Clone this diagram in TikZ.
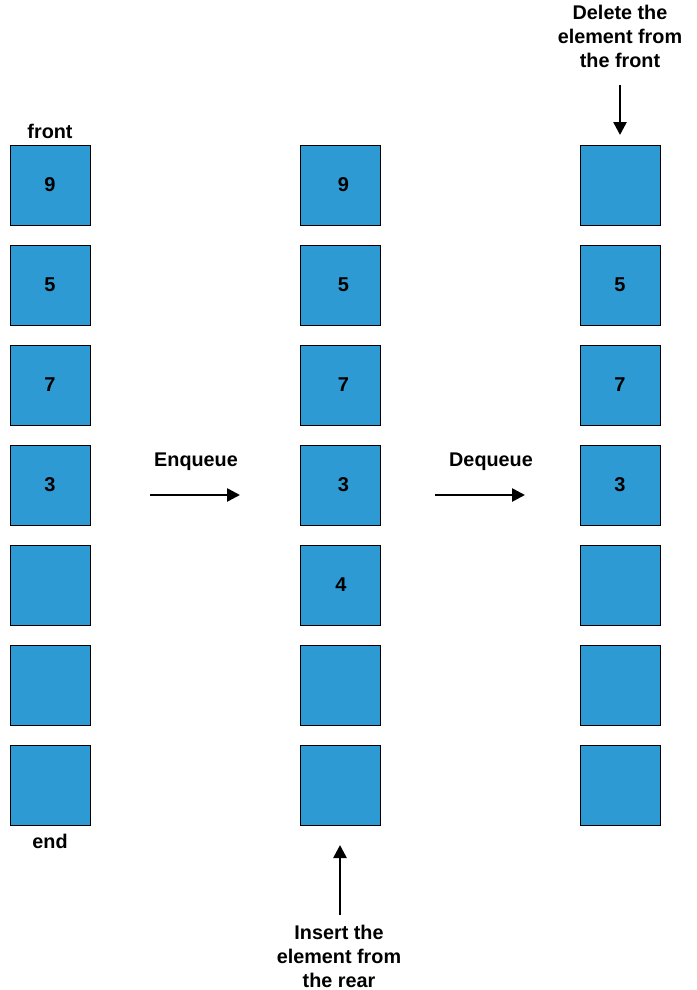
\documentclass[tikz,border=0pt]{standalone}
\usepackage{fontspec}
\setmainfont{Liberation Sans}
\usetikzlibrary{arrows.meta}
\definecolor{qblue}{HTML}{2E9AD3}
\tikzset{
  cell/.style={draw=black, line width=0.9pt, fill=qblue, minimum width=80pt, minimum height=80pt, inner sep=0pt, outer sep=0pt, font=\bfseries\fontsize{20}{22}\selectfont},
  lbl/.style={font=\bfseries\fontsize{19.8}{24}\selectfont, inner sep=0pt, align=center},
  arr/.style={draw=black, line width=2.6pt, -{Triangle[length=13pt,width=13pt]}}
}
\begin{document}
\begin{tikzpicture}[x=1pt,y=-1pt]
\useasboundingbox (0,0) rectangle (696,990);
% column 1
\node[cell] (a1) at (50,185) {9};
\node[cell] (a2) at (50,285) {5};
\node[cell] (a3) at (50,385) {7};
\node[cell] (a4) at (50,485) {3};
\node[cell] (a5) at (50,585) {};
\node[cell] (a6) at (50,685) {};
\node[cell] (a7) at (50,785) {};
% column 2
\node[cell] (b1) at (340,185) {\hspace*{7pt}9};
\node[cell] (b2) at (340,285) {\hspace*{7pt}5};
\node[cell] (b3) at (340,385) {\hspace*{7pt}7};
\node[cell] (b4) at (340,485) {\hspace*{7pt}3};
\node[cell] (b5) at (340,585) {\hspace*{2pt}4};
\node[cell] (b6) at (340,685) {};
\node[cell] (b7) at (340,785) {};
% column 3
\node[cell] (c1) at (620,185) {};
\node[cell] (c2) at (620,285) {5};
\node[cell] (c3) at (620,385) {7};
\node[cell] (c4) at (620,485) {3};
\node[cell] (c5) at (620,585) {};
\node[cell] (c6) at (620,685) {};
\node[cell] (c7) at (620,785) {};
% labels
\node[lbl] (front) at (50,131) {front};
\node[lbl] (end) at (50,841) {end};
\node[lbl] (enq) at (196,462) {Enqueue};
\node[lbl] (deq) at (491,462) {Dequeue};
\node[lbl] (del) at (620,36) {Delete the\\element from\\the front};
\node[lbl] (ins) at (339,956) {Insert the\\element from\\the rear};
% arrows
\coordinate (e1) at (150,495);
\coordinate (e2) at (240,495);
\coordinate (d1) at (435,495);
\coordinate (d2) at (525,495);
\coordinate (t1) at (620,85);
\coordinate (t2) at (620,135);
\coordinate (r1) at (340,915);
\coordinate (r2) at (340,845);
\draw[arr] (e1) -- (e2);
\draw[arr] (d1) -- (d2);
\draw[arr] (t1) -- (t2);
\draw[arr] (r1) -- (r2);
\end{tikzpicture}
\end{document}
